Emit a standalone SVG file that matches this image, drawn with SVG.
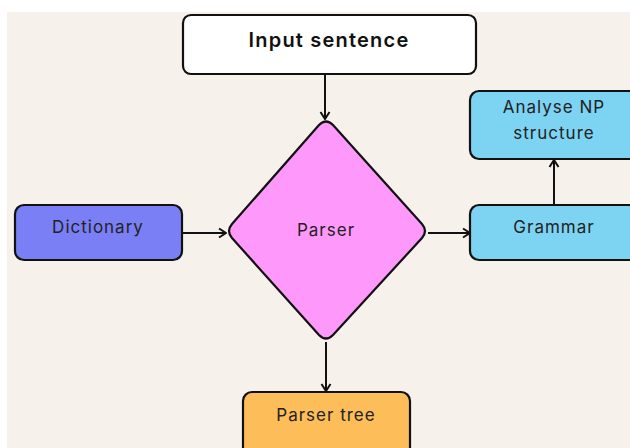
<svg xmlns="http://www.w3.org/2000/svg" width="630" height="448" viewBox="0 0 630 448">
<style>
.box{stroke:#111;stroke-width:2.2}
.t{font-family:Inter,"Noto Sans",sans-serif;font-size:17px;fill:#222;text-anchor:middle;letter-spacing:1px}
.c{stroke:#111;stroke-width:2;fill:none;marker-end:url(#ah)}
</style>
<defs>
<marker id="ah" viewBox="0 0 12 12" refX="11" refY="6" markerWidth="12" markerHeight="12" markerUnits="userSpaceOnUse" orient="auto">
<path d="M4,1.5 L11,6 L4,10.5" fill="none" stroke="#111" stroke-width="2"/>
</marker>
</defs>
<rect x="0" y="0" width="630" height="448" fill="#ffffff"/>
<rect x="7" y="12" width="623" height="436" fill="#f6f1ea"/>
<g id="connectors">
<line class="c" x1="325" y1="74" x2="325" y2="119"/>
<line class="c" x1="182" y1="233" x2="226" y2="233"/>
<line class="c" x1="428" y1="233" x2="470" y2="233"/>
<line class="c" x1="554" y1="205" x2="554" y2="160"/>
<line class="c" x1="326" y1="342" x2="326" y2="391"/>
</g>
<g id="input">
<rect class="box" x="183" y="15" width="293" height="59" rx="8" fill="#ffffff"/>
<text class="t" x="329" y="47" style="font-weight:600;font-size:20px;fill:#111;letter-spacing:1.2px">Input sentence</text>
</g>
<g id="parser">
<path class="box" d="M319,125 Q326,118 333,125 L422,224 Q428,231 422,238 L333,335 Q326,342 319,335 L232,238 Q226,231 232,224 Z" fill="#fe98fb"/>
<text class="t" x="326" y="236">Parser</text>
</g>
<g id="dictionary">
<rect class="box" x="15" y="205" width="167" height="55" rx="9" fill="#7b7ff5"/>
<text class="t" x="98" y="233">Dictionary</text>
</g>
<g id="grammar">
<rect class="box" x="470" y="205" width="168" height="55" rx="9" fill="#7dd3f2"/>
<text class="t" x="554" y="233">Grammar</text>
</g>
<g id="analyse">
<rect class="box" x="470" y="91" width="168" height="68" rx="9" fill="#7dd3f2"/>
<text class="t" x="554" y="113">Analyse NP</text>
<text class="t" x="554" y="139">structure</text>
</g>
<g id="parsertree">
<rect class="box" x="243" y="392" width="167" height="64" rx="9" fill="#fdbd59"/>
<text class="t" x="326" y="421">Parser tree</text>
</g>
</svg>
